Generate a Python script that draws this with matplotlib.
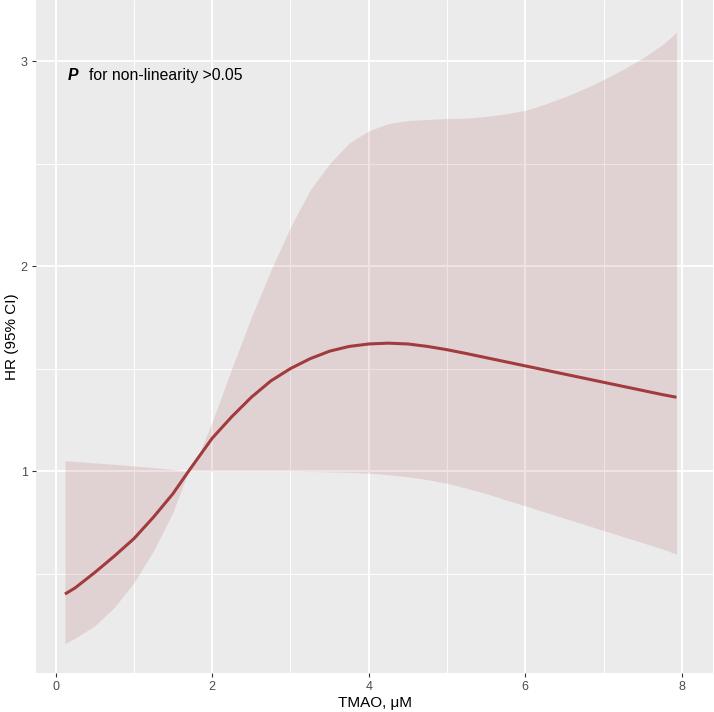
import numpy as np
import matplotlib.pyplot as plt
from matplotlib.ticker import MultipleLocator

tmao = [0.12, 0.25, 0.5, 0.75, 1.0, 1.25, 1.5, 1.7, 1.85, 2.0, 2.25, 2.5, 2.75,
        3.0, 3.25, 3.5, 3.75, 4.0, 4.25, 4.5, 4.75, 5.0, 5.25, 5.5, 5.75, 6.0,
        6.25, 6.5, 6.75, 7.0, 7.25, 7.5, 7.75, 7.93]

hr = [0.40, 0.43, 0.505, 0.585, 0.67, 0.775, 0.89, 1.0, 1.08, 1.16, 1.265, 1.36, 1.44,
      1.50, 1.548, 1.585, 1.608, 1.62, 1.624, 1.62, 1.608, 1.592, 1.573, 1.553, 1.533, 1.513,
      1.493, 1.473, 1.453, 1.433, 1.413, 1.393, 1.373, 1.36]

hr_upper = [1.05, 1.047, 1.04, 1.033, 1.025, 1.017, 1.008, 1.0, 1.10, 1.24, 1.50, 1.75, 1.98,
            2.19, 2.37, 2.50, 2.60, 2.66, 2.695, 2.71, 2.715, 2.72, 2.722, 2.73, 2.743, 2.76,
            2.79, 2.825, 2.865, 2.91, 2.96, 3.015, 3.08, 3.14]

hr_lower = [0.158, 0.185, 0.245, 0.335, 0.455, 0.61, 0.80, 1.0, 1.0, 1.0, 1.0, 1.0, 1.0,
            1.0, 0.998, 0.996, 0.994, 0.99, 0.982, 0.972, 0.958, 0.94, 0.916, 0.89, 0.86, 0.83,
            0.80, 0.77, 0.74, 0.71, 0.68, 0.65, 0.62, 0.595]

x_ticks = [0, 2, 4, 6, 8]
y_ticks = [1, 2, 3]

LINE_COLOR = "#A23B3E"

plt.rcParams["font.family"] = ["Liberation Sans", "DejaVu Sans"]

fig = plt.figure(figsize=(7.14, 7.12), dpi=100)
ax = fig.add_axes([0.0504, 0.0548, 0.9486, 0.9452])

ax.set_facecolor("#EBEBEB")
for s in ax.spines.values():
    s.set_visible(False)

ax.fill_between(tmao, hr_lower, hr_upper, color=LINE_COLOR, alpha=0.14,
                linewidth=0, zorder=2)
ax.plot(tmao, hr, color=LINE_COLOR, linewidth=2.2, zorder=3,
        solid_capstyle="butt", solid_joinstyle="round")

ax.set_xlim(-0.25, 8.4)
ax.set_ylim(0.015, 3.298)

ax.set_xticks(x_ticks)
ax.set_yticks(y_ticks)
ax.xaxis.set_minor_locator(MultipleLocator(1))
ax.yaxis.set_minor_locator(MultipleLocator(0.5))

ax.grid(which="major", color="white", linewidth=1.3, zorder=1)
ax.grid(which="minor", color="white", linewidth=0.65, zorder=1)
ax.set_axisbelow(True)

ax.tick_params(which="major", direction="out", length=3, width=0.8,
               color="#333333", labelcolor="#4D4D4D", labelsize=9, pad=3)
ax.tick_params(which="minor", length=0)

ax.set_xlabel("TMAO, μM", fontsize=11, labelpad=2)
ax.set_ylabel("HR (95% CI)", fontsize=11, labelpad=1)

ax.text(0.15, 2.93, "P", fontsize=11.3, fontweight="bold", fontstyle="italic",
        va="center", ha="left")
ax.text(0.43, 2.93, "for non-linearity >0.05", fontsize=11.3,
        va="center", ha="left")

fig.savefig("out.png", dpi=100)
